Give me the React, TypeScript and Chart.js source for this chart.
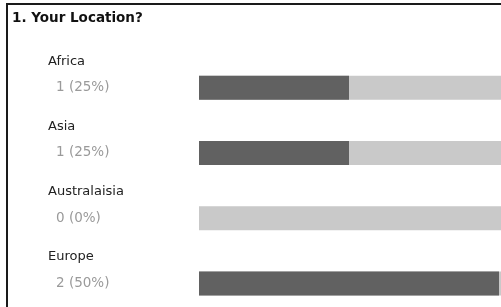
import React, { useEffect, useRef } from "react";
import { Chart, registerables } from "chart.js";

Chart.register(...registerables);

const title = "1. Your Location?";
const categories = ["Africa", "Asia", "Australaisia", "Europe"];
const votes = [1, 1, 0, 2];
const percents = [25, 25, 0, 50];
const trackValues = [100, 100, 100, 100];
const countLabels = votes.map((v, i) => `${v} (${percents[i]}%)`);

const FONT = "'DejaVu Sans', Verdana, sans-serif";

const decorPlugin = {
  id: "decor",
  afterDraw(chart: any) {
    const ctx = chart.ctx as CanvasRenderingContext2D;
    const y = chart.scales.y;
    ctx.save();
    // frame
    ctx.strokeStyle = "#1a1a1a";
    ctx.lineWidth = 2;
    ctx.beginPath();
    ctx.moveTo(7, chart.height);
    ctx.lineTo(7, 4);
    ctx.lineTo(chart.width, 4);
    ctx.stroke();
    // title
    ctx.fillStyle = "#111";
    ctx.font = `bold 13.5px ${FONT}`;
    ctx.textAlign = "left";
    ctx.textBaseline = "alphabetic";
    ctx.fillText(title, 12, 21.5);
    // category names
    ctx.font = `13px ${FONT}`;
    ctx.fillStyle = "#222";
    ctx.textBaseline = "middle";
    categories.forEach((c, i) => {
      ctx.fillText(c, 48, y.getPixelForValue(i) - 26.5);
    });
    ctx.restore();
  },
};

export default function App() {
  const ref = useRef<HTMLCanvasElement>(null);
  useEffect(() => {
    if (!ref.current) return;
    const chart = new Chart(ref.current, {
      type: "bar",
      data: {
        labels: categories,
        datasets: [
          {
            label: "Votes (%)",
            data: percents,
            backgroundColor: "#616161",
            borderWidth: 0,
            inflateAmount: 0,
            barThickness: 24,
            grouped: false,
          } as any,
          {
            label: "Track",
            data: trackValues,
            backgroundColor: "#c9c9c9",
            borderWidth: 0,
            inflateAmount: 0,
            barThickness: 24,
            grouped: false,
          } as any,
        ],
      },
      options: {
        indexAxis: "y",
        animation: false,
        responsive: false,
        layout: { padding: { top: 55, left: 56, right: 1, bottom: 14 } },
        plugins: {
          legend: { display: false },
          tooltip: { enabled: false },
          title: { display: false },
        },
        scales: {
          x: { display: false, min: 0, max: 100 },
          y: {
            grid: { display: false },
            border: { display: false },
            afterFit: (scale: any) => {
              scale.width = 143;
            },
            ticks: {
              crossAlign: "far",
              color: "#9a9a9a",
              font: { family: FONT, size: 13.5 },
              callback: (_v: any, i: number) => countLabels[i],
            },
          },
        },
      },
      plugins: [decorPlugin],
    });
    return () => chart.destroy();
  }, []);
  return (
    <div
      style={{
        position: "fixed",
        left: 0,
        top: 0,
        width: 501,
        height: 307,
        overflow: "hidden",
        background: "#fff",
      }}
    >
      <canvas ref={ref} width={800} height={330} style={{ display: "block" }} />
    </div>
  );
}
